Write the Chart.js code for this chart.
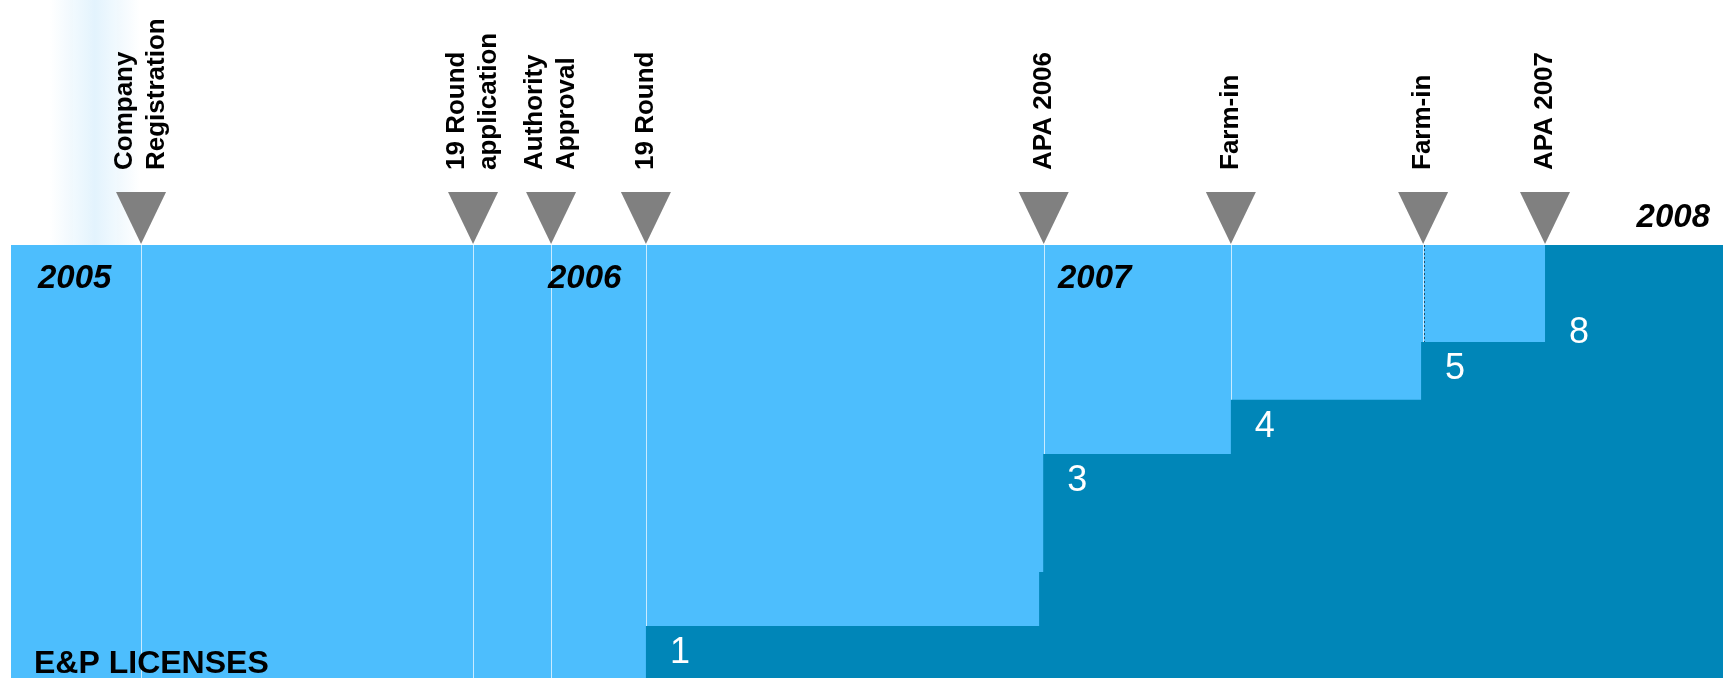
<!DOCTYPE html>
<html>
<head>
<meta charset="utf-8">
<script src="https://cdn.jsdelivr.net/npm/chart.js@4"></script>
<style>
  html, body { margin: 0; background: #fff; }
  #wrap { width: 1723px; height: 678px; position: relative; }
</style>
</head>
<body>
<div id="wrap"><canvas id="chart"></canvas></div>
<script>
// milestones on the timeline (decimal years)
const eventDates = [2005.255, 2005.906, 2006.059, 2006.245, 2007.025, 2007.392, 2007.769, 2008.008];
const eventLabels = [
  ['Company', 'Registration'],
  ['19 Round', 'application'],
  ['Authority', 'Approval'],
  ['19 Round'],
  ['APA 2006'],
  ['Farm-in'],
  ['Farm-in'],
  ['APA 2007']
];
const yearTicks = [2005, 2006, 2007, 2008];

// licence count steps: where each step starts, its drawn height, its label
const stepDates = [2005, 2006.245, 2007.016, 2007.024, 2007.392, 2007.765, 2008.008];
const stepHeights = [0, 0.96, 1.96, 4.14, 5.14, 6.21, 8];
const licenseCounts = [null, 1, null, 3, 4, 5, 8];
const axisEnd = 2008.357;

const FONT = '"Liberation Sans", Arial, sans-serif';

const points = stepDates.map((d, i) => ({ x: d, y: stepHeights[i] }));
points.push({ x: axisEnd, y: stepHeights[stepHeights.length - 1] });

const timeline = {
  id: 'timeline',
  beforeDatasetsDraw(chart) {
    const { ctx, chartArea: a, scales: { x } } = chart;
    ctx.save();
    // faint glow top-left
    const g = ctx.createLinearGradient(50, 0, 140, 0);
    g.addColorStop(0, 'rgba(215,238,252,0)');
    g.addColorStop(0.5, 'rgba(215,238,252,0.7)');
    g.addColorStop(1, 'rgba(215,238,252,0)');
    ctx.fillStyle = g;
    ctx.fillRect(50, 0, 90, a.top);

    ctx.fillStyle = '#4dbefd';
    ctx.fillRect(a.left, a.top, a.right - a.left, a.bottom - a.top);

    eventDates.forEach((d, i) => {
      const px = Math.round(x.getPixelForValue(d)) + 0.5;
      ctx.lineWidth = 1;
      ctx.setLineDash([]);
      ctx.strokeStyle = 'rgba(225,243,255,0.85)';
      ctx.beginPath();
      ctx.moveTo(px, a.top);
      ctx.lineTo(px, a.bottom);
      ctx.stroke();
      if (i === 6) {
        ctx.strokeStyle = '#1c4f6e';
        ctx.setLineDash([2, 2]);
        ctx.beginPath();
        ctx.moveTo(px + 1, a.top);
        ctx.lineTo(px + 1, a.bottom);
        ctx.stroke();
      }
    });
    ctx.restore();
  },
  afterDraw(chart) {
    const { ctx, chartArea: a, scales: { x, y } } = chart;
    ctx.save();

    // markers + rotated labels
    eventDates.forEach((d, i) => {
      const px = x.getPixelForValue(d);
      ctx.fillStyle = '#808080';
      ctx.beginPath();
      ctx.moveTo(px - 25, a.top - 53);
      ctx.lineTo(px + 25, a.top - 53);
      ctx.lineTo(px, a.top - 1);
      ctx.closePath();
      ctx.fill();

      const lines = eventLabels[i];
      ctx.save();
      ctx.translate(px, a.top - 75);
      ctx.rotate(-Math.PI / 2);
      ctx.fillStyle = '#000';
      ctx.font = 'bold 26px ' + FONT;
      ctx.textAlign = 'left';
      ctx.textBaseline = 'middle';
      lines.forEach((t, k) => {
        ctx.fillText(t, 0, (k - (lines.length - 1) / 2) * 32);
      });
      ctx.restore();
    });

    // year labels
    ctx.fillStyle = '#000';
    ctx.font = 'italic bold 33px ' + FONT;
    ctx.textBaseline = 'alphabetic';
    yearTicks.forEach((yr, i) => {
      if (i < yearTicks.length - 1) {
        ctx.textAlign = 'left';
        ctx.fillText(String(yr), x.getPixelForValue(yr) + 27, a.top + 43);
      } else {
        ctx.textAlign = 'right';
        ctx.fillText(String(yr), a.right - 13, a.top - 18);
      }
    });

    // licence counts
    ctx.fillStyle = '#fff';
    ctx.font = '36px ' + FONT;
    ctx.textAlign = 'left';
    ctx.textBaseline = 'middle';
    licenseCounts.forEach((c, i) => {
      if (c === null) return;
      const px = x.getPixelForValue(stepDates[i]) + 24;
      let py = y.getPixelForValue(stepHeights[i]) + 27;
      if (i === licenseCounts.length - 1) py = y.getPixelForValue(stepHeights[i - 1]) - 9;
      ctx.fillText(String(c), px, py);
    });

    ctx.fillStyle = '#000';
    ctx.font = 'bold 32px ' + FONT;
    ctx.textBaseline = 'alphabetic';
    ctx.fillText('E&P LICENSES', a.left + 23, a.bottom - 5);
    ctx.restore();
  }
};

new Chart(document.getElementById('chart'), {
  type: 'line',
  data: {
    datasets: [{
      label: 'E&P licenses',
      data: points,
      stepped: 'before',
      fill: 'origin',
      backgroundColor: '#0086b8',
      borderWidth: 0,
      pointRadius: 0
    }]
  },
  options: {
    responsive: true,
    maintainAspectRatio: false,
    animation: false,
    layout: { padding: { left: 11, top: 245, right: 0, bottom: 0 } },
    plugins: { legend: { display: false }, tooltip: { enabled: false } },
    scales: {
      x: { type: 'linear', min: 2005, max: axisEnd, display: false },
      y: { min: 0, max: 8, display: false }
    }
  },
  plugins: [timeline]
});
</script>
</body>
</html>
